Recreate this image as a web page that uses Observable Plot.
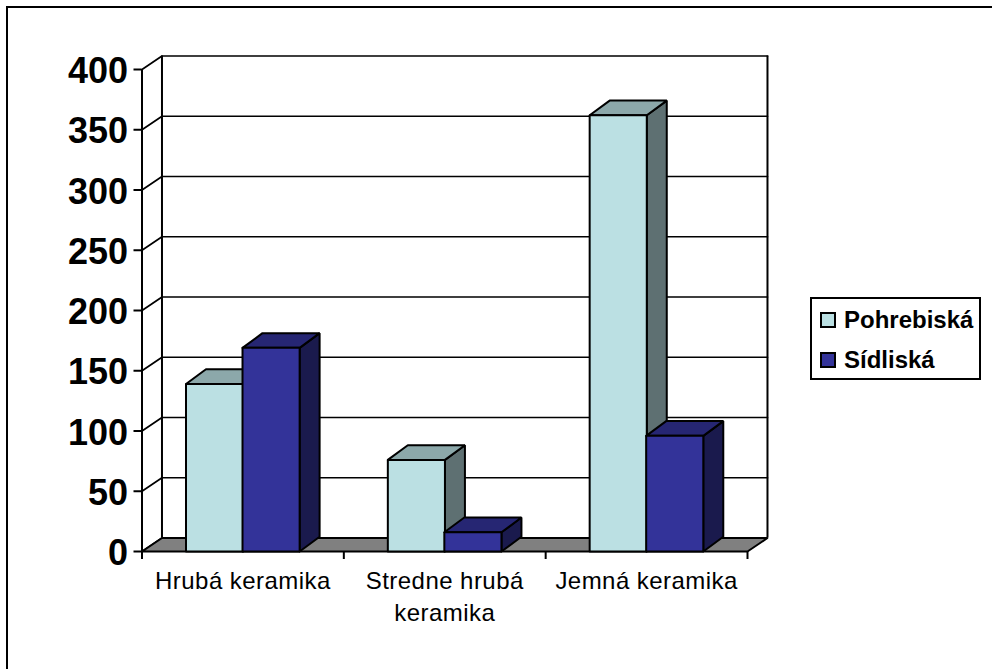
<!DOCTYPE html>
<html><head><meta charset="utf-8">
<script src="https://cdn.jsdelivr.net/npm/d3@7"></script>
<script src="https://cdn.jsdelivr.net/npm/@observablehq/plot@0.6"></script>
<style>
html,body{margin:0;padding:0;background:#fff;overflow:hidden}
#wrap{position:relative;width:992px;height:669px}
#frame{position:absolute;left:6px;top:6px;width:1000px;height:700px;border:2px solid #000;pointer-events:none}
#legend{position:absolute;left:810px;top:297px;width:167px;height:79px;border:2px solid #000;background:#fff;font:bold 24px "Liberation Sans",Arial,sans-serif;color:#000}
#legend div{position:absolute;left:8px;display:flex;align-items:center;height:26px}
#legend i{display:inline-block;width:12px;height:12px;border:2px solid #000;margin-right:8px}
svg{display:block}
.xlabels text{letter-spacing:.45px}
</style></head>
<body><div id="wrap"><div id="frame"></div><div id="chart"></div><div id="legend"></div></div>
<script>
const categories = ["Hrubá keramika", "Stredne hrubá\nkeramika", "Jemná keramika"];
const seriesNames = ["Pohrebiská", "Sídliská"];
const pohrebiska = [139, 76, 362];
const sidliska = [169, 16, 96];
const yTicks = [0, 50, 100, 150, 200, 250, 300, 350, 400];
const xTicks = [0, 1, 2, 3];
const colors = {front: ["#BBE0E3", "#333399"], top: ["#8CA8AA", "#262673"], side: ["#5E7072", "#1A1A4D"]};

// depth of the 3D box, in data units of each axis
const dX = 0.099, dY = 11.2, barDY = 12.2;
const barStart = [0.218, 0.498], barW = 0.283;
const sw = 2;

const poly = (pts, fill, strokeWidth = sw) =>
  Plot.line([...pts, pts[0]], {x: "0", y: "1", fill, stroke: "#000", strokeWidth, strokeLinejoin: "miter", curve: "linear"});

const marks = [];
// back wall gridlines and side-wall slants
for (const t of yTicks) {
  marks.push(Plot.line([[0, t], [dX, t + dY], [3 + dX, t + dY]], {x: "0", y: "1", stroke: "#000", strokeWidth: 1.7}));
}
marks.push(Plot.ruleX([dX, 3 + dX], {y1: dY, y2: 400 + dY, stroke: "#000", strokeWidth: 2}));
// floor
marks.push(poly([[0, 0], [3, 0], [3 + dX, dY], [dX, dY]], "#808080"));
// left axis line and ticks
marks.push(Plot.ruleX([0], {y1: 0, y2: 400, stroke: "#000", strokeWidth: 2}));
marks.push(Plot.axisY(yTicks, {anchor: "left", tickSize: 8, tickFormat: () => "", label: null, stroke: "#000", strokeWidth: 2}));
marks.push(Plot.axisY(yTicks, {anchor: "left", tickSize: 0, tickPadding: 14, dy: 2, label: null, fontSize: 36, fontWeight: "bold", fontFamily: "Liberation Sans", fill: "#000"}));
// bottom axis
marks.push(Plot.axisX(xTicks, {anchor: "bottom", tickSize: 8, tickFormat: () => "", label: null, stroke: "#000", strokeWidth: 2}));
marks.push(Plot.axisX(categories.map((c, i) => i + 0.5), {
  anchor: "bottom", tickSize: 0, tickPadding: 15, label: null, lineWidth: 30, className: "xlabels",
  tickFormat: d => categories[d - 0.5], fontSize: 24, lineHeight: 1.33,
  fontFamily: "Liberation Sans", fill: "#000", textAnchor: "middle"
}));

// bars
categories.forEach((_, i) => {
  [pohrebiska, sidliska].forEach((vals, s) => {
    const x1 = i + barStart[s], x2 = x1 + barW, v = vals[i];
    marks.push(poly([[x2, 0], [x2 + dX, barDY], [x2 + dX, v + barDY], [x2, v]], colors.side[s]));
    marks.push(poly([[x1, v], [x2, v], [x2 + dX, v + barDY], [x1 + dX, v + barDY]], colors.top[s]));
    marks.push(poly([[x1, 0], [x2, 0], [x2, v], [x1, v]], colors.front[s]));
  });
});

const chart = Plot.plot({
  width: 992, height: 669,
  marginLeft: 141.5, marginRight: 245, marginTop: 69, marginBottom: 118,
  x: {domain: [0, 3], axis: null},
  y: {domain: [0, 400], axis: null},
  style: {background: "transparent", color: "#000", overflow: "visible"},
  marks
});
document.getElementById("chart").append(chart);

const legend = document.getElementById("legend");
seriesNames.forEach((n, s) => {
  const row = document.createElement("div");
  row.style.top = (s === 0 ? 8 : 48) + "px";
  const sw = document.createElement("i");
  sw.style.background = colors.front[s];
  row.append(sw, n);
  legend.append(row);
});
</script></body></html>
